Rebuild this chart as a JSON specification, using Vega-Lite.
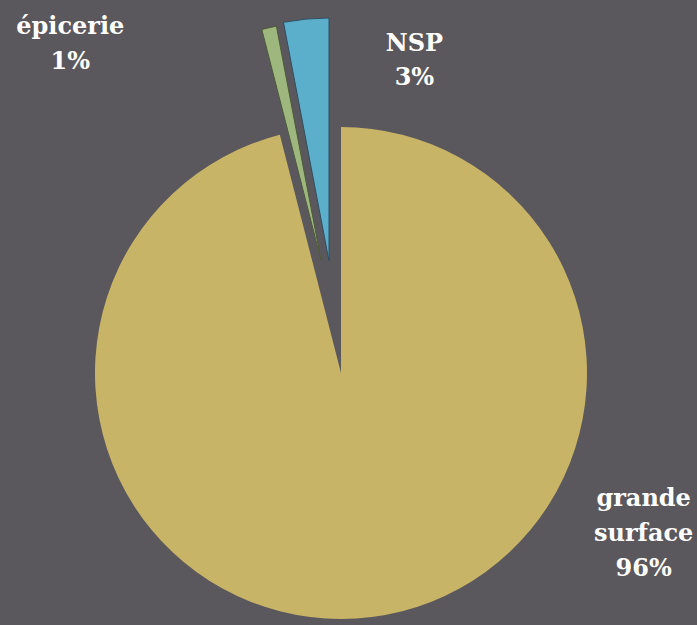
{
  "$schema": "https://vega.github.io/schema/vega-lite/v6.json",
  "autosize": {"type": "none"},
  "width": 682,
  "height": 506,
  "padding": {"left": 0, "top": 120, "right": 15, "bottom": -1},
  "background": "#5b585d",
  "config": {"view": {"stroke": null}, "text": {"font": "DejaVu Serif"}},
  "data": {
    "values": [
      {"cat": "grande surface", "value": 96, "label": "grande\nsurface\n96%"},
      {"cat": "épicerie", "value": 1, "label": "épicerie\n1%"},
      {"cat": "NSP", "value": 3, "label": "NSP\n3%"}
    ]
  },
  "layer": [
    {
      "transform": [
        {"stack": "value", "groupby": [], "as": ["s0", "s1"]},
        {"filter": "datum.cat === 'grande surface'"}
      ],
      "mark": {"type": "arc", "radius": 246},
      "encoding": {
        "theta": {"field": "s0", "type": "quantitative", "scale": {"domain": [0, 100]}},
        "theta2": {"field": "s1"},
        "color": {"field": "cat", "type": "nominal", "legend": null,
          "scale": {"domain": ["grande surface", "épicerie", "NSP"], "range": ["#c8b466", "#9db77e", "#5cafca"]}}
      }
    },
    {
      "transform": [
        {"stack": "value", "groupby": [], "as": ["s0", "s1"]},
        {"filter": "datum.cat === 'épicerie'"}
      ],
      "mark": {"type": "arc", "radius": 238, "xOffset": -20, "yOffset": -113, "stroke": "#4f5a3a", "strokeWidth": 1},
      "encoding": {
        "theta": {"field": "s0", "type": "quantitative", "scale": {"domain": [0, 100]}},
        "theta2": {"field": "s1"},
        "color": {"field": "cat", "type": "nominal", "legend": null}
      }
    },
    {
      "transform": [
        {"stack": "value", "groupby": [], "as": ["s0", "s1"]},
        {"filter": "datum.cat === 'NSP'"}
      ],
      "mark": {"type": "arc", "radius": 243, "xOffset": -12, "yOffset": -112, "stroke": "#2f4f63", "strokeWidth": 1},
      "encoding": {
        "theta": {"field": "s0", "type": "quantitative", "scale": {"domain": [0, 100]}},
        "theta2": {"field": "s1"},
        "color": {"field": "cat", "type": "nominal", "legend": null}
      }
    },
    {
      "mark": {"type": "text", "radius": 323, "dx": 43, "align": "center", "baseline": "alphabetic", "lineBreak": "\n", "lineHeight": 34, "font": "DejaVu Serif", "fontWeight": "bold", "fontSize": 24, "color": "#ffffff"},
      "encoding": {
        "theta": {"field": "value", "type": "quantitative", "stack": true, "scale": {"domain": [0, 100]}},
        "text": {"condition": {"test": "datum.cat === 'NSP'", "field": "label"}, "value": ""}
      }
    },
    {
      "mark": {"type": "text", "radius": 339, "dx": -260, "align": "center", "baseline": "alphabetic", "lineBreak": "\n", "lineHeight": 35, "font": "DejaVu Serif", "fontWeight": "bold", "fontSize": 24, "color": "#ffffff"},
      "encoding": {
        "theta": {"field": "value", "type": "quantitative", "stack": true, "scale": {"domain": [0, 100]}},
        "text": {"condition": {"test": "datum.cat === 'épicerie'", "field": "label"}, "value": ""}
      }
    },
    {
      "mark": {"type": "text", "radius": 133, "dx": 311, "align": "center", "baseline": "alphabetic", "lineBreak": "\n", "lineHeight": 35, "font": "DejaVu Serif", "fontWeight": "bold", "fontSize": 24, "color": "#ffffff"},
      "encoding": {
        "theta": {"field": "value", "type": "quantitative", "stack": true, "scale": {"domain": [0, 100]}},
        "text": {"condition": {"test": "datum.cat === 'grande surface'", "field": "label"}, "value": ""}
      }
    }
  ]
}
